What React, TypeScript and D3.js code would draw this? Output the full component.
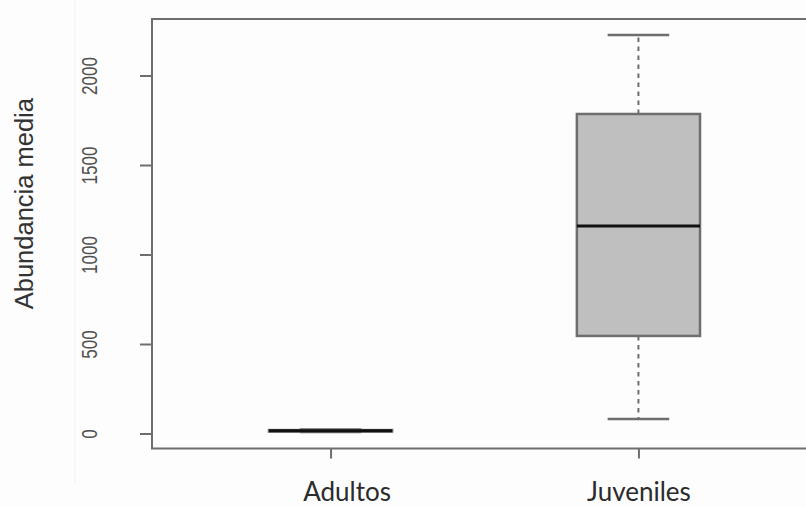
import React, { useEffect, useRef } from 'react';
import * as d3 from 'd3';

// box summary per group
const categories = ['Adultos', 'Juveniles'];
const whiskerLow = [8, 81];
const q1 = [11, 545];
const medians = [15, 1159];
const q3 = [19, 1785];
const whiskerHigh = [22, 2226];

const yTicks = [0, 500, 1000, 1500, 2000];

const W = 806;
const H = 507;

const App: React.FC = () => {
  const svgRef = useRef<SVGSVGElement | null>(null);

  useEffect(() => {
    const svgEl = svgRef.current;
    if (!svgEl) return;

    const svg = d3.select(svgEl);
    svg.selectAll('*').remove();

    // R-style limits: positions 1..n, xlim [0.5, n+0.5] padded by 4%
    const x = d3.scaleLinear().domain([0.42, 2.58]).range([152, 817]);
    const y = d3.scaleLinear().domain([0, 2000]).range([433.5, 75.5]);

    const frameTop = y(2315);
    const frameBottom = y(-84);
    const lineCol = '#6e6e6e';

    svg.append('rect').attr('width', W).attr('height', H).attr('fill', '#fdfdfd');

    // faint edge from the pasted picture
    svg.append('line')
      .attr('x1', 75).attr('x2', 75).attr('y1', 0).attr('y2', 483)
      .attr('stroke', '#f1f1f1').attr('stroke-width', 1);

    // plot frame (right side runs off the picture)
    svg.append('path')
      .attr('d', `M${x(2.7)},${frameTop}H${x(0.42)}V${frameBottom}H${x(2.7)}`)
      .attr('fill', 'none')
      .attr('stroke', lineCol)
      .attr('stroke-width', 2);

    // y axis (labels squeezed along the text direction like the original)
    const yAxis = svg.append('g')
      .attr('transform', `translate(${x(0.42)},0)`)
      .call(d3.axisLeft(y).tickValues(yTicks).tickSize(12).tickPadding(0).tickFormat(d3.format('d')));
    yAxis.select('.domain').remove();
    yAxis.selectAll('line').attr('stroke', lineCol).attr('stroke-width', 2);
    yAxis.selectAll('text')
      .attr('transform', 'rotate(-90) scale(0.78,1)')
      .attr('x', 0)
      .attr('y', -55)
      .attr('dy', 0)
      .attr('text-anchor', 'middle')
      .attr('fill', '#505050')
      .attr('font-family', 'Liberation Sans, Arial, sans-serif')
      .attr('font-size', 22);

    // x axis
    const xAxis = svg.append('g')
      .attr('transform', `translate(0,${frameBottom})`)
      .call(d3.axisBottom(x).tickValues([1, 2]).tickSize(10).tickFormat((d) => categories[(d as number) - 1]));
    xAxis.select('.domain').remove();
    xAxis.selectAll('line').attr('stroke', lineCol).attr('stroke-width', 2);
    xAxis.selectAll('text')
      .attr('y', 52)
      .attr('dy', 0)
      .attr('dx', (_, i) => (i === 0 ? 16 : 0))
      .attr('fill', '#2b2b2b')
      .attr('font-family', 'Lato, "Open Sans", sans-serif')
      .attr('font-size', 26);

    // y title
    svg.append('text')
      .attr('transform', `translate(33,${y(1284)}) rotate(-90)`)
      .attr('text-anchor', 'middle')
      .attr('fill', '#333')
      .attr('font-family', 'Liberation Sans, Arial, sans-serif')
      .attr('font-size', 25.5)
      .text('Abundancia media');

    // boxes
    const boxW = 0.4;
    const capW = 0.2;
    const boxes = svg.append('g');
    categories.forEach((_, i) => {
      const pos = i + 1;
      const g = boxes.append('g');

      // whiskers
      [[q3[i], whiskerHigh[i]], [q1[i], whiskerLow[i]]].forEach(([a, b]) => {
        g.append('line')
          .attr('x1', x(pos)).attr('x2', x(pos))
          .attr('y1', y(a)).attr('y2', y(b))
          .attr('stroke', lineCol)
          .attr('stroke-width', 2)
          .attr('stroke-dasharray', '4.5,4.5');
        g.append('line')
          .attr('x1', x(pos - capW / 2)).attr('x2', x(pos + capW / 2))
          .attr('y1', y(b)).attr('y2', y(b))
          .attr('stroke', lineCol)
          .attr('stroke-width', 2.5);
      });

      g.append('rect')
        .attr('x', x(pos - boxW / 2))
        .attr('y', y(q3[i]))
        .attr('width', x(pos + boxW / 2) - x(pos - boxW / 2))
        .attr('height', y(q1[i]) - y(q3[i]))
        .attr('fill', '#bfbfbf')
        .attr('stroke', lineCol)
        .attr('stroke-width', 2.5);

      g.append('line')
        .attr('x1', x(pos - boxW / 2)).attr('x2', x(pos + boxW / 2))
        .attr('y1', y(medians[i])).attr('y2', y(medians[i]))
        .attr('stroke', '#111')
        .attr('stroke-width', 3);
    });
  }, []);

  return (
    <svg
      ref={svgRef}
      width={W}
      height={H}
      style={{ position: 'fixed', left: 0, top: 0, display: 'block' }}
    />
  );
};

export default App;
